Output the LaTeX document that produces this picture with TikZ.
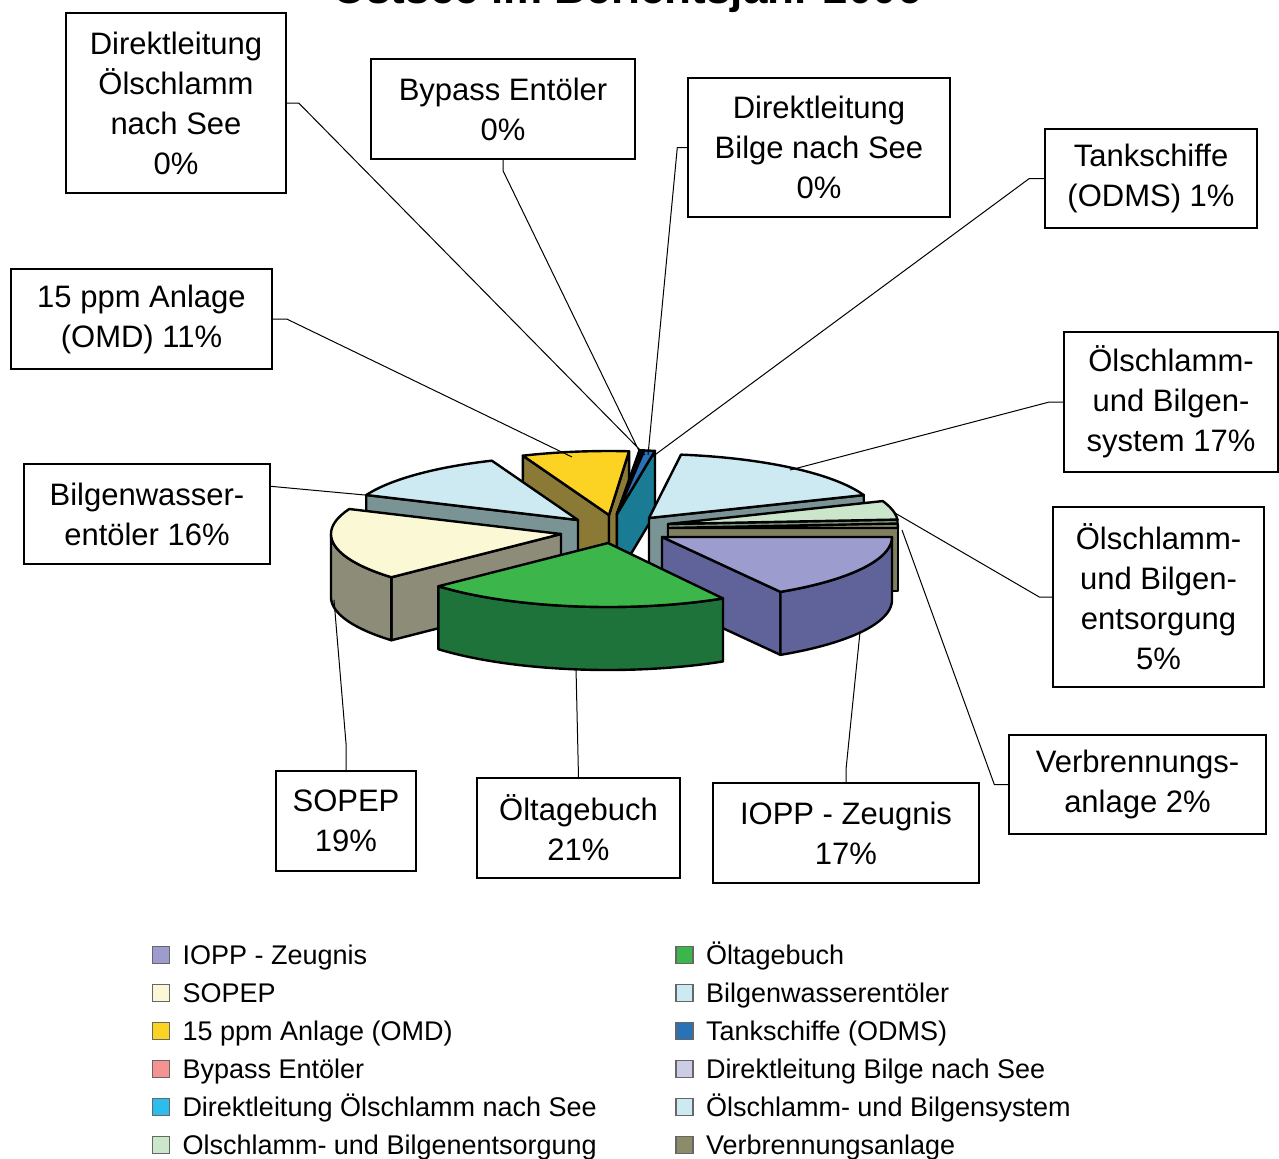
\documentclass[tikz,border=0pt]{standalone}
\usepackage{fontspec}
\setmainfont{Liberation Sans}
\usetikzlibrary{positioning}

\definecolor{iopp}{HTML}{9C9CCE}
\definecolor{ioppside}{HTML}{5F6399}
\definecolor{tag}{HTML}{3CB54A}
\definecolor{tagside}{HTML}{1E733B}
\definecolor{sopep}{HTML}{FBF8D5}
\definecolor{sopepside}{HTML}{8C8C78}
\definecolor{bw}{HTML}{CDEAF2}
\definecolor{bwside}{HTML}{7A9496}
\definecolor{omd}{HTML}{FDD323}
\definecolor{omdside}{HTML}{8B7A35}
\definecolor{tank}{HTML}{2A72B8}
\definecolor{tankside}{HTML}{1A7B94}
\definecolor{bypass}{HTML}{F59393}
\definecolor{bypassside}{HTML}{B86666}
\definecolor{dbil}{HTML}{CCCCE6}
\definecolor{dbilside}{HTML}{8F8FB0}
\definecolor{doel}{HTML}{2DBDED}
\definecolor{doelside}{HTML}{1F86A8}
\definecolor{sys}{HTML}{CDEAF2}
\definecolor{sysside}{HTML}{7A9496}
\definecolor{ent}{HTML}{CCE6CC}
\definecolor{entside}{HTML}{7E957F}
\definecolor{ver}{HTML}{8C8C6A}
\definecolor{verside}{HTML}{808060}

\newcommand{\lblfont}{\fontsize{15.5}{20}\selectfont}
\newcommand{\legfont}{\fontsize{13.5}{16}\selectfont}

% pie geometry (px)
\def\pieA{230}
\def\pieB{64}
\def\pieH{63}

% apex x, apex y, start, end, top colour, wall colour
\newcommand{\pieslice}[6]{%
  \pgfmathsetmacro\slA{#3}%
  \pgfmathsetmacro\slB{#4}%
  \pgfmathsetmacro\slVs{cos(\slA)<0 ? 1 : 0}%
  \pgfmathsetmacro\slVe{cos(\slB)>0 ? 1 : 0}%
  \pgfmathsetmacro\slLo{max(\slA,0)}%
  \pgfmathsetmacro\slHi{min(\slB,180)}%
  \ifdim\slVs pt>0.5pt
    \filldraw[slice, fill=#6] (#1,#2) -- ({#1+\pieA*cos(\slA)},{#2+\pieB*sin(\slA)})
      -- ++(0,\pieH) -- ({#1},{#2+\pieH}) -- cycle;
  \fi
  \ifdim\slVe pt>0.5pt
    \filldraw[slice, fill=#6] (#1,#2) -- ({#1+\pieA*cos(\slB)},{#2+\pieB*sin(\slB)})
      -- ++(0,\pieH) -- ({#1},{#2+\pieH}) -- cycle;
  \fi
  \ifdim\slHi pt>\slLo pt
    \filldraw[slice, fill=#6]
      plot[domain=\slLo:\slHi, samples=40] ({#1+\pieA*cos(\x)},{#2+\pieB*sin(\x)})
      -- plot[domain=\slHi:\slLo, samples=40] ({#1+\pieA*cos(\x)},{#2+\pieB*sin(\x)+\pieH})
      -- cycle;
  \fi
  \filldraw[slice, fill=#5] (#1,#2)
    -- plot[domain=\slA:\slB, samples=40] ({#1+\pieA*cos(\x)},{#2+\pieB*sin(\x)}) -- cycle;
}

\begin{document}
\begin{tikzpicture}[
    x=0.5pt, y=-0.5pt,
    slice/.style={draw=black, line width=1.2pt, line join=round},
    lbl/.style={rectangle, draw, fill=white, line width=0.7pt, align=center, font=\lblfont},
    lead/.style={line width=0.5pt},
    key/.style={rectangle, draw=black!60, line width=0.6pt, minimum size=8.5pt, inner sep=0pt},
    keytext/.style={anchor=west, inner sep=0pt, font=\legfont, text height=9.7pt, text depth=0pt}
]
\path[use as bounding box, fill=white] (0,0) rectangle (1279,1158);

% title, cut by the page edge
\begin{scope}
\clip (0,0) rectangle (1279,1158);
\node[font=\bfseries\fontsize{22}{26}\selectfont, anchor=base] (title) at (627,3.5) {Ostsee im Berichtsjahr 2006};
\end{scope}

% pie, back to front
\pieslice{609}{515}{248}{275}{omd}{omdside}
\pieslice{617}{514}{275.6}{276.0}{bypass}{bypassside}
\pieslice{617}{514}{276.0}{276.4}{dbil}{dbilside}
\pieslice{617}{514}{276.4}{276.8}{doel}{doelside}
\pieslice{617}{514}{276.8}{279.5}{tank}{tankside}
\pieslice{649}{518}{278}{339}{sys}{sysside}
\pieslice{578}{520}{203}{248}{bw}{bwside}
\pieslice{668}{524}{339}{356}{ent}{entside}
\pieslice{668}{528}{356}{360}{ver}{verside}
\pieslice{561}{534}{137.5}{203}{sopep}{sopepside}
\pieslice{662}{537}{0}{59}{iopp}{ioppside}
\pieslice{608}{543}{60}{137.5}{tag}{tagside}

% leader ends on the pie
\coordinate (pOel)  at (645,455);
\coordinate (pByp)  at (641,455);
\coordinate (pBil)  at (648,455);
\coordinate (pTank) at (652,457);
\coordinate (pOmd)  at (572,457);
\coordinate (pSys)  at (790,470);
\coordinate (pBw)   at (365,495);
\coordinate (pEnt)  at (895,513);
\coordinate (pVer)  at (902,530);
\coordinate (pSop)  at (334,600);
\coordinate (pTag)  at (576,668);
\coordinate (pIopp) at (860,632);

% data labels
\node[lbl, minimum width=110pt, minimum height=90pt] (dOel) at (176,103) {Direktleitung\\Ölschlamm\\nach See\\0\%};
\node[lbl, minimum width=132pt, minimum height=50pt] (byp) at (503,109) {Bypass Entöler\\0\%};
\node[lbl, minimum width=131pt, minimum height=69.5pt] (dBil) at (819,147.5) {Direktleitung\\Bilge nach See\\0\%};
\node[lbl, minimum width=106pt, minimum height=49.5pt] (tank) at (1151,178.5) {Tankschiffe\\(ODMS) 1\%};
\node[lbl, minimum width=130.5pt, minimum height=50pt] (omd) at (141.5,319) {15 ppm Anlage\\(OMD) 11\%};
\node[lbl, minimum width=107pt, minimum height=70pt] (sys) at (1171,402) {Ölschlamm-\\und Bilgen-\\system 17\%};
\node[lbl, minimum width=123pt, minimum height=50pt] (bw) at (147,514) {Bilgenwasser-\\entöler 16\%};
\node[lbl, minimum width=105.5pt, minimum height=90pt] (ent) at (1158.5,597) {Ölschlamm-\\und Bilgen-\\entsorgung\\5\%};
\node[lbl, minimum width=128.5pt, minimum height=49.5pt] (ver) at (1137.5,784.5) {Verbrennungs-\\anlage 2\%};
\node[lbl, minimum width=70pt, minimum height=50pt] (sop) at (346,821) {SOPEP\\19\%};
\node[lbl, minimum width=101.5pt, minimum height=50pt] (tag) at (578.5,828) {Öltagebuch\\21\%};
\node[lbl, minimum width=133pt, minimum height=50pt] (iopp) at (846,833) {IOPP - Zeugnis\\17\%};

\path[draw, lead]
    (dOel.east) -- ++(12,0) -- (pOel)
    (byp.south) -- ++(0,11) -- (pByp)
    (dBil.west) -- ++(-10,0) -- (pBil)
    (tank.west) -- ++(-15,0) -- (pTank)
    (omd.east) -- ++(14,0) -- (pOmd)
    (sys.west) -- ++(-14,0) -- (pSys)
    (bw.north east) ++(0,23) -- (pBw)
    (ent.west) -- ++(-13,0) -- (pEnt)
    (ver.west) -- ++(-14,0) -- (pVer)
    (sop.north) -- ++(0,-27) -- (pSop)
    (tag.north) -- (pTag)
    (iopp.north) -- ++(0,-13) -- (pIopp);

% legend
\node[key, fill=iopp] (kIopp) at (161,955) {};
\node[keytext, right=6pt of kIopp] (tIopp) {IOPP - Zeugnis};
\node[key, fill=sopep] (kSop) at (161,993) {};
\node[keytext, right=6pt of kSop] (tSop) {SOPEP};
\node[key, fill=omd] (kOmd) at (161,1031) {};
\node[keytext, right=6pt of kOmd] (tOmd) {15 ppm Anlage (OMD)};
\node[key, fill=bypass] (kByp) at (161,1069) {};
\node[keytext, right=6pt of kByp] (tByp) {Bypass Entöler};
\node[key, fill=doel] (kOel) at (161,1107) {};
\node[keytext, right=6pt of kOel] (tOel) {Direktleitung Ölschlamm nach See};
\node[key, fill=ent] (kEnt) at (161,1145) {};
\node[keytext, right=6pt of kEnt] (tEnt) {Olschlamm- und Bilgenentsorgung};
\node[key, fill=tag] (kTag) at (684.5,955) {};
\node[keytext, right=6pt of kTag] (tTag) {Öltagebuch};
\node[key, fill=bw] (kBw) at (684.5,993) {};
\node[keytext, right=6pt of kBw] (tBw) {Bilgenwasserentöler};
\node[key, fill=tank] (kTank) at (684.5,1031) {};
\node[keytext, right=6pt of kTank] (tTank) {Tankschiffe (ODMS)};
\node[key, fill=dbil] (kBil) at (684.5,1069) {};
\node[keytext, right=6pt of kBil] (tBil) {Direktleitung Bilge nach See};
\node[key, fill=sys] (kSys) at (684.5,1107) {};
\node[keytext, right=6pt of kSys] (tSys) {Ölschlamm- und Bilgensystem};
\node[key, fill=ver] (kVer) at (684.5,1145) {};
\node[keytext, right=6pt of kVer] (tVer) {Verbrennungsanlage};
\end{tikzpicture}
\end{document}
